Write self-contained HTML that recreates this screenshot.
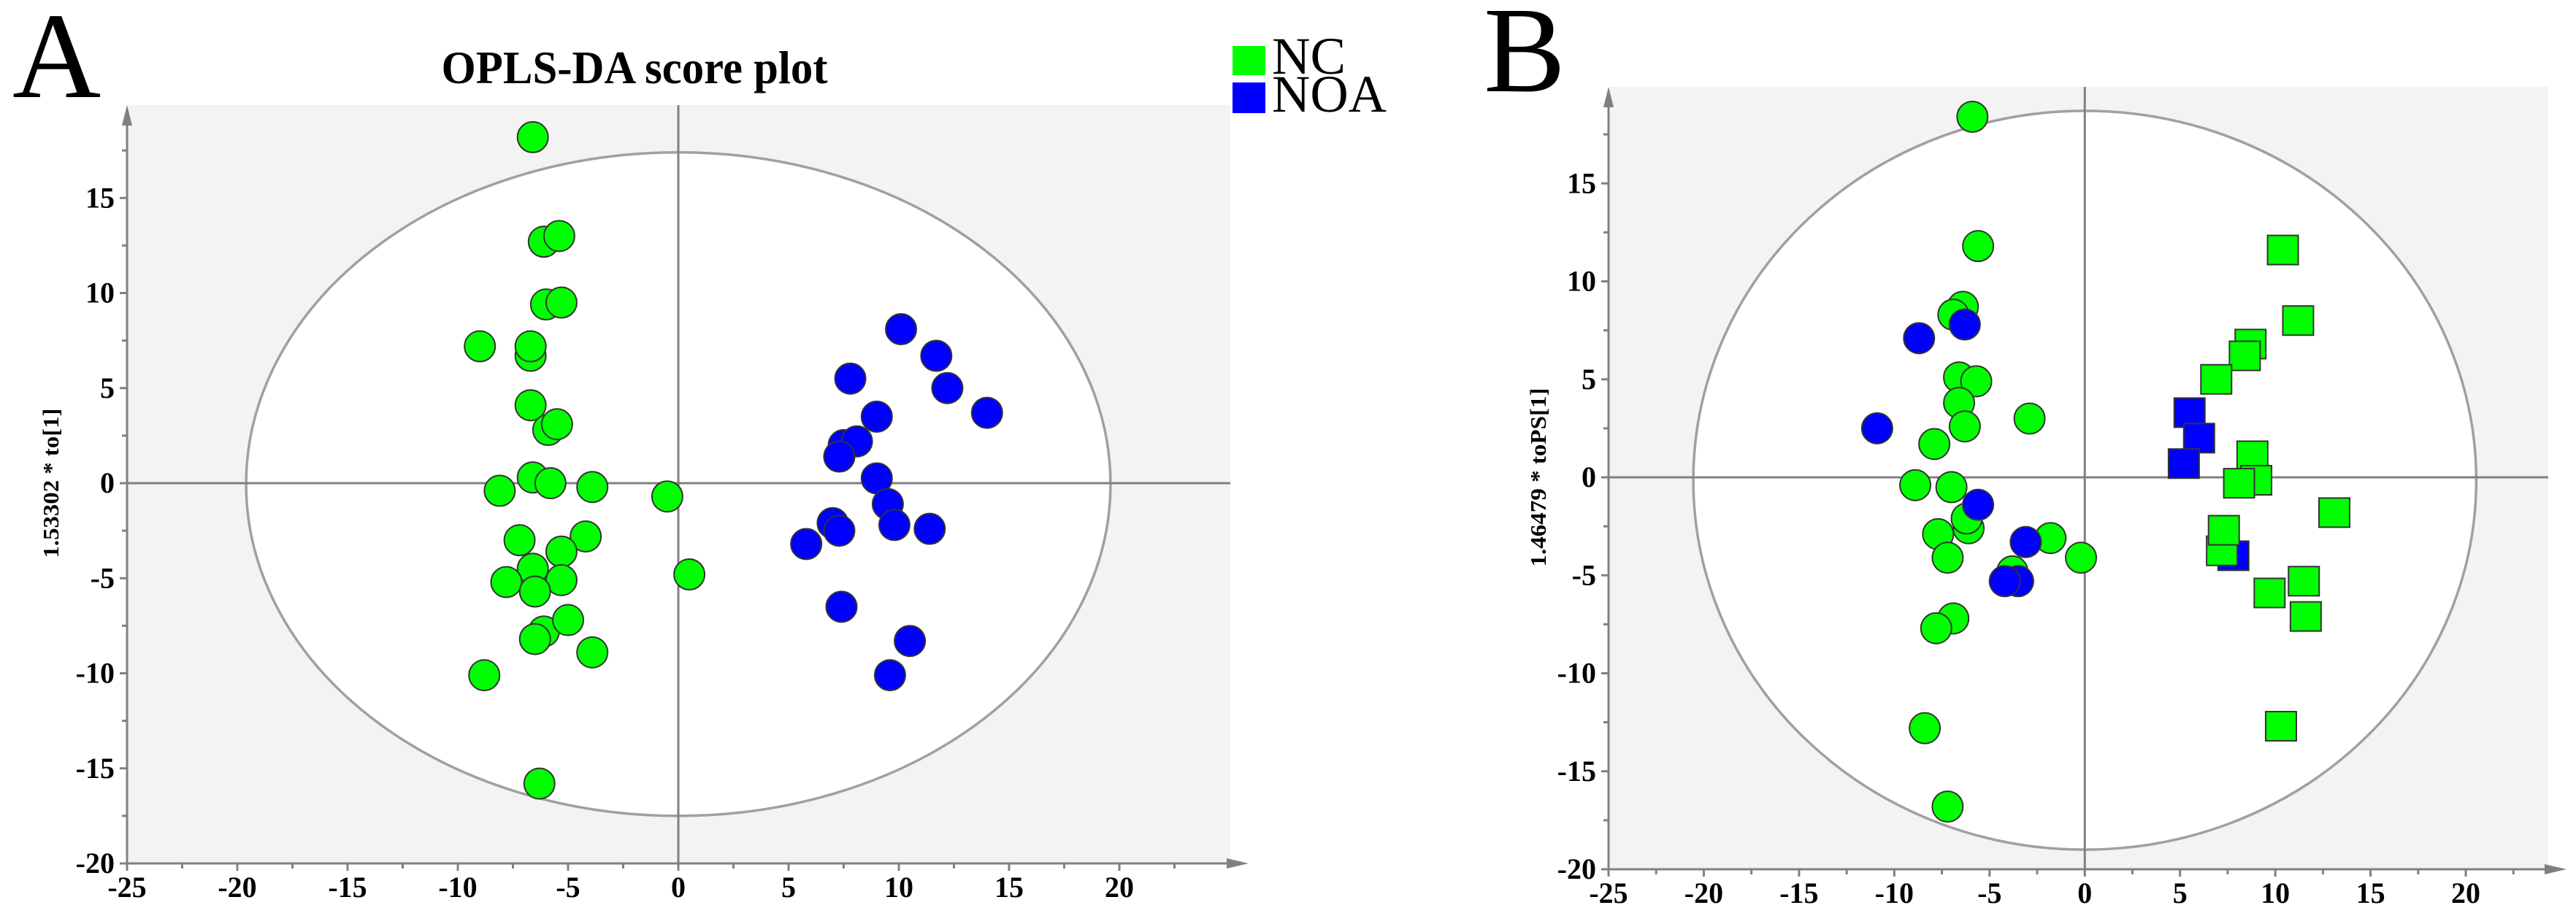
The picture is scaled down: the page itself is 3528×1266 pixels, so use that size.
<!DOCTYPE html>
<html><head><meta charset="utf-8"><style>
html,body{margin:0;padding:0;background:#fff;}
svg{display:block;}
svg text{font-family:"Liberation Serif","Times New Roman",serif;}
</style></head><body>
<svg id="fig" width="3528" height="1266" viewBox="0 0 3528 1266" xmlns="http://www.w3.org/2000/svg" font-family="Liberation Serif, serif">
<text x="17" y="133" font-size="168" font-family="Liberation Serif, serif">A</text>
<text x="2032" y="125" font-size="168" font-family="Liberation Serif, serif">B</text>
<text x="869" y="114" font-size="64" font-weight="bold" font-family="Liberation Serif, serif" text-anchor="middle" textLength="529" lengthAdjust="spacingAndGlyphs">OPLS-DA score plot</text>
<g>
<g><rect x="1688" y="63" width="45" height="40" fill="#00ff00"/><text x="1742" y="101" font-size="72" font-family="Liberation Serif, serif" textLength="101" lengthAdjust="spacingAndGlyphs">NC</text></g>
<g><rect x="1688" y="113" width="45" height="42" fill="#0000ff"/><text x="1742" y="153" font-size="72" font-family="Liberation Serif, serif" textLength="157" lengthAdjust="spacingAndGlyphs">NOA</text></g>
</g>
<g id="pA"></g>
<g id="pB"></g>
</svg>
<script>
// Panel A data
const aGreenX = [-6.6,-6.1,-5.4,-6.0,-5.3,-9.0,-6.7,-6.7,-6.7,-5.9,-5.5,-6.6,-5.8,-3.9,-8.1,-0.5,-7.2,-4.2,-5.3,-6.6,-7.8,-5.3,-6.5,0.5,-6.1,-5.0,-6.5,-3.9,-8.8,-6.3];
const aGreenY = [18.2,12.7,13.0,9.4,9.5,7.2,6.7,7.2,4.1,2.8,3.1,0.3,0.0,-0.2,-0.4,-0.7,-3.0,-2.8,-3.6,-4.5,-5.2,-5.1,-5.7,-4.8,-7.8,-7.2,-8.2,-8.9,-10.1,-15.8];
const aBlueX = [10.1,11.7,12.2,14.0,7.8,9.0,7.5,8.1,7.3,9.0,9.5,9.8,11.4,7.0,7.3,5.8,7.4,10.5,9.6];
const aBlueY = [8.1,6.7,5.0,3.7,5.5,3.5,2.0,2.2,1.4,0.25,-1.1,-2.2,-2.4,-2.1,-2.5,-3.2,-6.5,-8.3,-10.1];
// Panel B data
const bGreenCircX = [-5.9,-5.6,-6.4,-6.9,-6.6,-5.7,-6.6,-6.3,-2.9,-7.9,-8.9,-7.0,-6.1,-6.2,-7.7,-1.8,-7.2,-0.2,-3.8,-6.9,-7.8,-8.4,-7.2];
const bGreenCircY = [18.4,11.8,8.7,8.3,5.1,4.9,3.8,2.6,3.0,1.7,-0.4,-0.5,-2.6,-2.1,-2.9,-3.1,-4.1,-4.1,-4.8,-7.2,-7.7,-12.8,-16.8];
const bBlueCircX = [-8.7,-6.3,-10.9,-5.6,-3.1,-3.5,-4.2];
const bBlueCircY = [7.1,7.8,2.5,-1.4,-3.3,-5.3,-5.3];
const bBlueSqX = [5.5,6.0,5.2,7.8];
const bBlueSqY = [3.3,2.0,0.7,-4.0];
const bGreenSqX = [10.4,11.2,8.7,8.4,6.9,8.8,9.0,8.1,13.1,7.2,7.3,11.5,9.7,11.6,10.3];
const bGreenSqY = [11.6,8.0,6.8,6.2,5.0,1.1,-0.15,-0.3,-1.8,-3.75,-2.7,-5.3,-5.9,-7.1,-12.7];
const xTicks = [-25,-20,-15,-10,-5,0,5,10,15,20];
const yTicks = [-20,-15,-10,-5,0,5,10,15];

const NS='http://www.w3.org/2000/svg';
const FF='Liberation Serif, serif';
function mk(parent,tag,attrs){const e=document.createElementNS(NS,tag);for(const k in attrs)e.setAttribute(k,attrs[k]);parent.appendChild(e);return e;}

function panel(g,cfg){
  const sx=v=>cfg.x0+(v+25)*cfg.ux;
  const sy=v=>cfg.y0-v*cfg.uy;
  const L=sx(-25), B=sy(-20);
  const bg=mk(g,'rect',{x:L,y:cfg.top,width:cfg.right-L,height:B-cfg.top,fill:'#f3f3f3'});
  
  
  const el=mk(g,'ellipse',{cx:sx(0),cy:(sy(cfg.et)+sy(cfg.eb))/2,rx:(sx(cfg.er)-sx(cfg.el))/2,ry:(sy(cfg.eb)-sy(cfg.et))/2,fill:'#fff',stroke:'#a0a0a0','stroke-width':3.5});
  
  
  const v=mk(g,'line',{x1:sx(0),x2:sx(0),y1:cfg.top,y2:B,stroke:'#808080','stroke-width':3});
  
  
  const h=mk(g,'line',{x1:L,x2:cfg.right,y1:sy(0),y2:sy(0),stroke:'#808080','stroke-width':3});
  
  
  const xa=mk(g,'g',{});
  
  
  mk(xa,'line',{x1:L-10,x2:cfg.right+5,y1:B,y2:B,stroke:'#808080','stroke-width':3});
  mk(xa,'polygon',{points:`${cfg.right+25},${B} ${cfg.right-5},${B-7} ${cfg.right-5},${B+7}`,fill:'#808080'});
  for(let t=-25;t<=22.5;t+=2.5){mk(xa,'line',{x1:sx(t),x2:sx(t),y1:B,y2:B+(t%5===0?10:7),stroke:'#808080','stroke-width':3});}
  xTicks.forEach(t=>{const tx=mk(xa,'text',{x:sx(t),y:B+46,'font-size':40,'font-weight':'bold','font-family':FF,'text-anchor':'middle'});tx.textContent=t;
    
    });
  const ya=mk(g,'g',{});
  
  
  mk(ya,'line',{x1:L,x2:L,y1:B+10,y2:cfg.top+20,stroke:'#808080','stroke-width':3});
  mk(ya,'polygon',{points:`${L},${cfg.top} ${L-7},${cfg.top+28} ${L+7},${cfg.top+28}`,fill:'#808080'});
  for(let t=-20;t<=17.5;t+=2.5){mk(ya,'line',{x1:L-(t%5===0?10:7),x2:L,y1:sy(t),y2:sy(t),stroke:'#808080','stroke-width':3});}
  yTicks.forEach(t=>{const tx=mk(ya,'text',{x:L-17,y:sy(t)+13,'font-size':40,'font-weight':'bold','font-family':FF,'text-anchor':'end'});tx.textContent=t;
    
    });
  const yl=mk(g,'text',{x:cfg.ylx,y:sy(0)+10,'font-size':31,'font-weight':'bold','font-family':FF,'text-anchor':'middle',textLength:cfg.yll,lengthAdjust:'spacingAndGlyphs',transform:`rotate(-90 ${cfg.ylx} ${sy(0)})`});
  yl.textContent=cfg.ylabel;
  
  
  return {sx,sy};
}
function circles(g,s,xs,ys,color,name){
  xs.forEach((x,i)=>{const c=mk(g,'circle',{cx:s.sx(x),cy:s.sy(ys[i]),r:21,fill:color,stroke:'#333','stroke-width':2});
    
    });
}
function squares(g,s,xs,ys,color,name){
  xs.forEach((x,i)=>{const c=mk(g,'rect',{x:s.sx(x)-21,y:s.sy(ys[i])-20,width:42,height:40,fill:color,stroke:'#333','stroke-width':2});
    
    });
}
const gA=document.getElementById('pA');
const sA=panel(gA,{x0:174,ux:30.2,y0:662,uy:26.05,top:144,right:1685,el:-19.6,er:19.6,et:17.4,eb:-17.5,ylx:70,yll:205,ylabel:'1.53302 * to[1]'});
circles(gA,sA,aGreenX,aGreenY,'#00ff00','nc-point');
circles(gA,sA,aBlueX,aBlueY,'#0000ff','noa-point');
const gB=document.getElementById('pB');
const sB=panel(gB,{x0:2203,ux:26.09,y0:654,uy:26.85,top:119,right:3490,el:-20.5,er:20.6,et:18.7,eb:-19.0,ylx:2107,yll:245,ylabel:'1.46479 * toPS[1]'});
circles(gB,sB,bGreenCircX,bGreenCircY,'#00ff00','nc-point');
circles(gB,sB,bBlueCircX,bBlueCircY,'#0000ff','noa-point');
squares(gB,sB,bBlueSqX,bBlueSqY,'#0000ff','noa-square-point');
squares(gB,sB,bGreenSqX,bGreenSqY,'#00ff00','nc-square-point');
</script>
</body></html>
